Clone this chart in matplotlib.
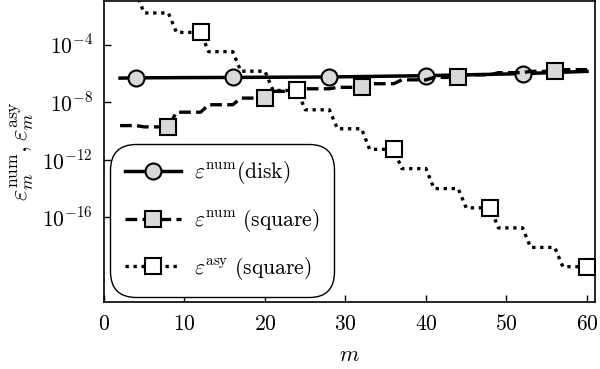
import numpy as np
import matplotlib
matplotlib.use("Agg")
import matplotlib.pyplot as plt

plt.rcParams['mathtext.fontset'] = 'cm'
plt.rcParams['font.family'] = 'serif'
plt.rcParams['font.serif'] = ['DejaVu Serif']

# ---- data (log10 of errors) ----
m_disk = [2, 4, 16, 28, 40, 52, 60]
log_eps_num_disk = [-6.33, -6.31, -6.28, -6.25, -6.16, -6.02, -5.86]

m_sq = list(range(2, 61))
log_eps_num_square = [
    -9.63, -9.63, -9.63,
    -9.72, -9.72, -9.72, -9.73,
    -8.70, -8.70, -8.70, -8.70,
    -8.18, -8.18, -8.18, -8.18,
    -7.72, -7.72, -7.72, -7.74,
    -7.25, -7.25, -7.25, -7.25,
    -7.07, -7.07, -7.07, -7.07,
    -6.97, -6.97, -6.97, -6.97,
    -6.72, -6.72, -6.72, -6.72,
    -6.45, -6.45, -6.45, -6.45,
    -6.28, -6.28, -6.28, -6.28,
    -6.10, -6.10, -6.10, -6.10,
    -5.95, -5.95, -5.95, -5.95,
    -5.86, -5.86, -5.86, -5.86,
    -5.74, -5.74, -5.74, -5.74,
]
log_eps_asy_square = [
    -0.45, -0.45, -0.45,
    -1.80, -1.80, -1.80, -1.80,
    -3.15, -3.15, -3.15, -3.15,
    -4.49, -4.49, -4.49, -4.49,
    -5.85, -5.85, -5.85, -5.85,
    -7.19, -7.19, -7.19, -7.19,
    -8.53, -8.53, -8.53, -8.53,
    -9.85, -9.85, -9.85, -9.85,
    -11.28, -11.28, -11.28, -11.28,
    -12.62, -12.62, -12.62, -12.62,
    -14.01, -14.01, -14.01, -14.01,
    -15.35, -15.35, -15.35, -15.35,
    -16.74, -16.74, -16.74, -16.74,
    -18.10, -18.10, -18.10, -18.10,
    -19.44, -19.44, -19.44, -19.49,
]

xticks = [0, 10, 20, 30, 40, 50, 60]
ytick_exps = [-4, -8, -12, -16]

labels = [r'$\varepsilon^{\rm num}\mathrm{(disk)}$',
          r'$\varepsilon^{\rm num}\ \mathrm{(square)}$',
          r'$\varepsilon^{\rm asy}\ \mathrm{(square)}$']

# ---- figure ----
fig = plt.figure(figsize=(6.0, 3.69), dpi=100)
ax = fig.add_axes([0.1733, 0.181, 0.8184, 0.817])

gray = '#d9d9d9'
ax.plot(m_disk, 10.0 ** np.array(log_eps_num_disk), '-', color='black', lw=2.5,
        marker='o', ms=11.5, mfc=gray, mec='black', mew=1.5,
        markevery=[1, 2, 3, 4, 5], label=labels[0], zorder=3)
ax.plot(m_sq, 10.0 ** np.array(log_eps_num_square), color='black', lw=2.4,
        dashes=[3.5, 1.6], marker='s', ms=11, mfc=gray, mec='black', mew=1.5,
        markevery=slice(6, None, 12), label=labels[1], zorder=4)
ax.plot(m_sq, 10.0 ** np.array(log_eps_asy_square), color='black', lw=2.4,
        dashes=[1.0, 1.4], marker='s', ms=11, mfc='white', mec='black', mew=1.5,
        markevery=slice(10, None, 12), label=labels[2], zorder=5)

ax.set_yscale('log')
ax.set_xlim(0, 61)
ax.set_ylim(10 ** -21.91, 10 ** -0.95)

ax.set_xticks(xticks)
ax.set_xticklabels([rf'${t}$' for t in xticks])
ax.set_yticks([10.0 ** e for e in ytick_exps])
ax.set_yticklabels([rf'$10^{{{e}}}$' for e in ytick_exps])
ax.yaxis.set_minor_locator(matplotlib.ticker.NullLocator())
ax.tick_params(direction='in', length=5, width=1, labelsize=15.5, pad=8)
for s in ax.spines.values():
    s.set_linewidth(1.2)

ax.set_xlabel(r'$m$', fontsize=16, labelpad=6)
ax.set_ylabel(r'$\varepsilon_m^{\rm num}, \varepsilon_m^{\rm asy}$', fontsize=18, labelpad=4)

leg = ax.legend(loc='lower left', bbox_to_anchor=(0.012, 0.017), borderaxespad=0,
                fontsize=15.5, handlelength=2.6, frameon=True, fancybox=True,
                edgecolor='black', framealpha=1, labelspacing=0.97,
                borderpad=0.7, handletextpad=0.6)
leg.get_frame().set_linewidth(1.0)
leg.legendPatch.set_boxstyle("round,pad=0,rounding_size=1.2")

fig.savefig('out.png', dpi=100)
